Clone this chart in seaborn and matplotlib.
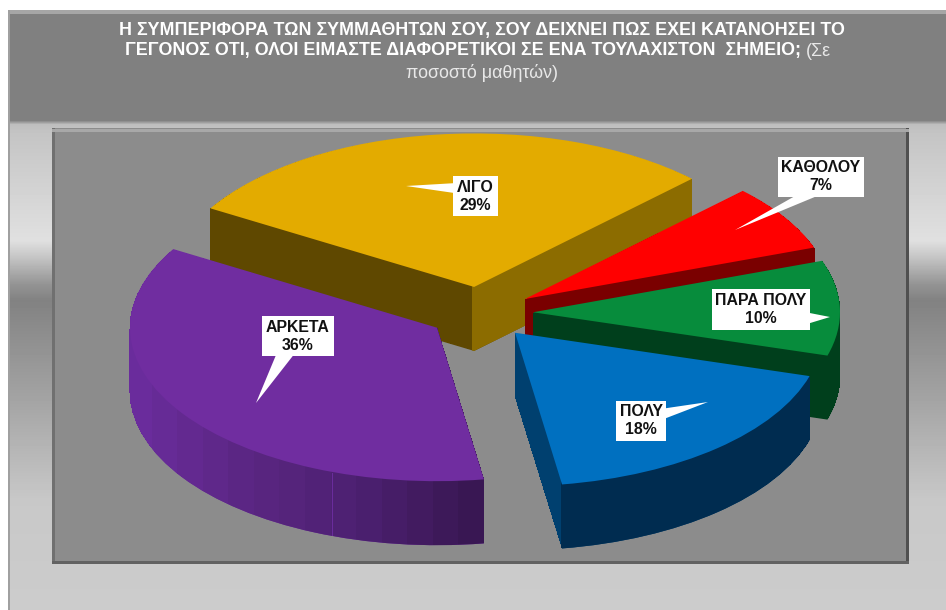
import numpy as np
import seaborn as sns
import matplotlib
matplotlib.use("Agg")
import matplotlib.pyplot as plt
from matplotlib.patches import Rectangle, Wedge

# data
categories = ["ΛΙΓΟ", "ΑΡΚΕΤΑ", "ΠΟΛΥ", "ΠΑΡΑ ΠΟΛΥ", "ΚΑΘΟΛΟΥ"]
values = [29, 36, 18, 10, 7]
percent_labels = ["29%", "36%", "18%", "10%", "7%"]

top_colors = ["#e3ab00", "#702da0", "#0070c0", "#078c3c", "#ff0000"]
draw_rank = [0, 4, 3, 2, 1]  # back to front

# wall colours as (x from, x to, colour) in pixels
purple_steps = sns.blend_palette(["#6a2c9c", "#5a2682", "#4c2070", "#391753"], 14, as_cmap=False)
purple_edges = np.linspace(126, 484, 15)
wall_bands = [
    [(0, 472, "#5f4800"), (472, 946, "#8c6c00")],
    [(purple_edges[k], purple_edges[k + 1], purple_steps[k]) for k in range(14)],
    [(0, 561, "#00406f"), (561, 946, "#002c50")],
    [(0, 946, "#003f1c")],
    [(0, 946, "#7a0000")],
]

# layout in pixels
W, H = 946, 610
cx, cy = 480.5, 313
rx, ry = 307, 153.5
depth_px = 64

sns.set_theme(style="white")
plt.rcParams["font.family"] = ["Liberation Sans", "DejaVu Sans"]

fig = plt.figure(figsize=(W / 100, H / 100), dpi=100, facecolor="white")

# background in pixel coordinates
bg = fig.add_axes([0, 0, 1, 1], zorder=0)
bg.set_xlim(0, W)
bg.set_ylim(H, 0)
bg.axis("off")

stop_y = [120, 124, 132, 240, 255, 285, 300, 400, 500, 610]
stop_g = [128, 190, 196, 224, 200, 146, 130, 164, 200, 204]
ramp = np.interp(np.arange(120, 610), stop_y, stop_g).reshape(-1, 1)
bg.imshow(ramp, cmap="gray", vmin=0, vmax=255, extent=(8, W, 610, 120), aspect="auto", zorder=1)
bg.set_xlim(0, W)
bg.set_ylim(H, 0)
bg.add_patch(Rectangle((8, 10), W - 8, 110, fc="#808080", ec="none", zorder=2))
bg.add_patch(Rectangle((8, 10), W - 8, 4, fc="#a6a6a6", ec="none", zorder=3))
bg.add_patch(Rectangle((8, 10), 2, H - 10, fc="#a0a0a0", ec="none", zorder=3))
bg.add_patch(Rectangle((52, 128), 857, 435, fc="#8c8c8c", ec="none", zorder=4))
bg.add_patch(Rectangle((52, 128), 3, 435, fc="#707070", ec="none", zorder=5))
bg.add_patch(Rectangle((906, 128), 3, 435, fc="#505050", ec="none", zorder=5))
bg.add_patch(Rectangle((52, 129), 857, 3, fc="#a8a8a8", ec="none", zorder=5))
bg.add_patch(Rectangle((52, 561), 857, 2.5, fc="#626262", ec="none", zorder=5))

# pie axes: a squashed pie, 1 unit = rx by ry pixels
ax = fig.add_axes([0, 0, 1, 1], zorder=1)
ax.patch.set_alpha(0)
pie_args = dict(explode=[0.171] * 5, startangle=44.8, radius=1, wedgeprops=dict(linewidth=0))

# side walls, a stack of pies going down, only the lowest one smoothed
for level in range(depth_px, 0, -1):
    smooth = level == depth_px
    wedges, _ = ax.pie(values, center=(0, -level / ry), colors=top_colors, **pie_args)
    for i, w in enumerate(wedges):
        bands = wall_bands[i]
        for x0, x1, col in bands[1:]:
            extra = Wedge(w.center, w.r, w.theta1, w.theta2, fc=col, ec="none", lw=0,
                          antialiased=smooth, zorder=draw_rank[i] * 10 + 1)
            ax.add_patch(extra)
            extra.set_clip_path(Rectangle((x0, 0), x1 - x0, H, transform=bg.transData))
        x0, x1, col = bands[0]
        w.set(facecolor=col, antialiased=smooth, zorder=draw_rank[i] * 10 + 1)
        w.set_clip_path(Rectangle((x0, 0), x1 - x0, H, transform=bg.transData))

# top faces
wedges, _ = ax.pie(values, center=(0, 0), colors=top_colors, **pie_args)
for i, w in enumerate(wedges):
    w.set_zorder(draw_rank[i] * 10 + 2)

ax.set_aspect("auto")
ax.set_xlim(-cx / rx, (W - cx) / rx)
ax.set_ylim((cy - H) / ry, cy / ry)
ax.axis("off")

# callouts: box centre, tail base, tail tip, tail width (pixels)
box_xy = [(475.5, 196), (298, 336), (641, 421), (761, 309.5), (821, 177)]
tail_base = [(460, 188.3), (287, 350), (660, 414.6), (804, 318.3), (817, 190)]
tail_tip = [(406, 186), (256, 403), (708, 402), (830, 317), (735, 230)]
tail_px = [11, 16.6, 11, 13, 11.2]

for i, name in enumerate(categories):
    ax.annotate("", xy=tail_tip[i], xytext=tail_base[i], xycoords=bg.transData, textcoords=bg.transData,
                annotation_clip=False, zorder=100,
                arrowprops=dict(arrowstyle=f"wedge,tail_width={tail_px[i] * 0.72},shrink_factor=0.5",
                                mutation_scale=1, fc="white", ec="none", lw=0, shrinkA=0, shrinkB=0))
    ax.text(box_xy[i][0], box_xy[i][1], f"{name}\n{percent_labels[i]}", transform=bg.transData,
            ha="center", va="center", ma="center", fontsize=11.4, fontweight="bold", color="#111111",
            linespacing=1.25, zorder=101,
            bbox=dict(boxstyle="square,pad=0.24", fc="white", ec="none"))

# title
tkw = dict(transform=bg.transData, color="white", fontsize=12.85, va="center", zorder=110, clip_on=False)
ax.text(482, 30, "Η ΣΥΜΠΕΡΙΦΟΡΑ ΤΩΝ ΣΥΜΜΑΘΗΤΩΝ ΣΟΥ, ΣΟΥ ΔΕΙΧΝΕΙ ΠΩΣ ΕΧΕΙ ΚΑΤΑΝΟΗΣΕΙ ΤΟ",
        ha="center", fontweight="bold", **tkw)
ax.text(801, 51, "ΓΕΓΟΝΟΣ ΟΤΙ, ΟΛΟΙ ΕΙΜΑΣΤΕ ΔΙΑΦΟΡΕΤΙΚΟΙ ΣΕ ΕΝΑ ΤΟΥΛΑΧΙΣΤΟΝ  ΣΗΜΕΙΟ;",
        ha="right", fontweight="bold", **tkw)
ax.text(806, 51, "(Σε", ha="left", **{**tkw, "color": "#e8e8e8"})
ax.text(482, 73, "ποσοστό μαθητών)", ha="center", **{**tkw, "color": "#e8e8e8"})

fig.savefig("out.png", dpi=100, facecolor="white")
